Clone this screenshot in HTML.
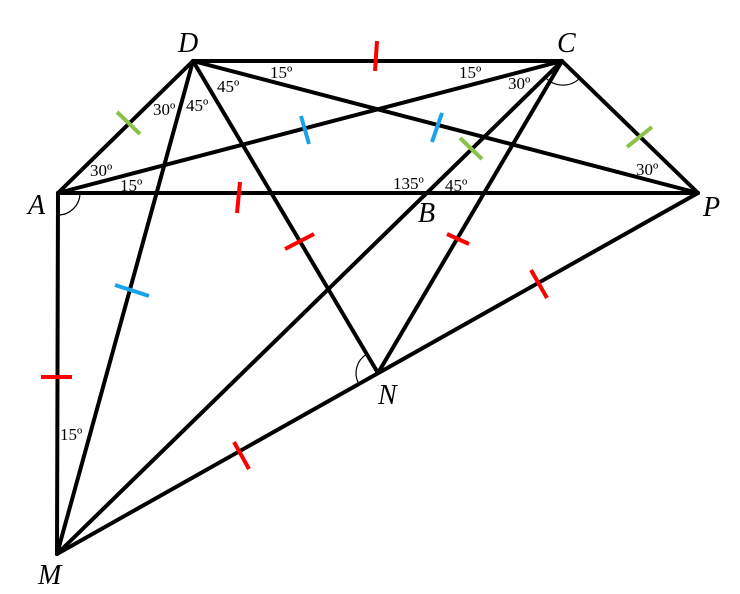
<!DOCTYPE html>
<html><head><meta charset="utf-8"><style>
html,body{margin:0;padding:0;background:#fff;width:740px;height:594px;overflow:hidden}
svg text.L{font-family:"Liberation Serif",serif;font-style:italic;font-size:28px;fill:#000}
svg text.a{font-family:"Liberation Serif",serif;font-size:17px;fill:#000}
</style></head><body>
<svg width="740" height="594" viewBox="0 0 740 594" xmlns="http://www.w3.org/2000/svg">
<g stroke="#000" stroke-width="4" stroke-linecap="round" fill="none">
<line x1="193" y1="61" x2="562" y2="61"/>
<line x1="58" y1="193" x2="193" y2="61"/>
<line x1="58" y1="193" x2="562" y2="61"/>
<line x1="58" y1="193" x2="698" y2="193"/>
<line x1="193" y1="61" x2="698" y2="193"/>
<line x1="193" y1="61" x2="378" y2="373"/>
<line x1="193" y1="61" x2="57" y2="554"/>
<line x1="562" y1="61" x2="698" y2="193"/>
<line x1="562" y1="61" x2="57" y2="554"/>
<line x1="562" y1="61" x2="378" y2="373"/>
<line x1="58" y1="193" x2="57" y2="554"/>
<line x1="57" y1="554" x2="698" y2="193"/>
</g>
<g stroke="#000" stroke-width="1.2" fill="none">
<path d="M80,193 A22,22 0 0 1 58,215"/>
<path d="M545,77 A24,24 0 0 0 580,78"/>
<path d="M367,354 A22,22 0 0 0 359,384"/>
</g>
<g stroke-width="4" fill="none">
<line x1="377" y1="41" x2="375" y2="71" stroke="#f00"/>
<line x1="117" y1="112" x2="140" y2="134" stroke="#8bc34a"/>
<line x1="301" y1="116" x2="309" y2="144" stroke="#1aa3e8"/>
<line x1="442" y1="113" x2="432" y2="142" stroke="#1aa3e8"/>
<line x1="460" y1="138" x2="482" y2="159" stroke="#8bc34a"/>
<line x1="652" y1="127" x2="627" y2="147" stroke="#8bc34a"/>
<line x1="240" y1="182" x2="237" y2="213" stroke="#f00"/>
<line x1="285" y1="249" x2="314" y2="234" stroke="#f00"/>
<line x1="447" y1="234" x2="469" y2="244" stroke="#f00"/>
<line x1="115" y1="285" x2="149" y2="296" stroke="#1aa3e8"/>
<line x1="41" y1="377" x2="72" y2="377" stroke="#f00"/>
<line x1="531" y1="270" x2="547" y2="298" stroke="#f00"/>
<line x1="234" y1="442" x2="249" y2="469" stroke="#f00"/>
</g>
<text class="L" x="178" y="52">D</text>
<text class="L" x="557" y="52">C</text>
<text class="L" x="28" y="214">A</text>
<text class="L" x="418" y="222">B</text>
<text class="L" x="703" y="216">P</text>
<text class="L" x="378" y="404">N</text>
<text class="L" x="38" y="584">M</text>
<text class="a" x="270" y="78">15º</text>
<text class="a" x="217" y="92">45º</text>
<text class="a" x="153" y="115">30º</text>
<text class="a" x="186" y="111">45º</text>
<text class="a" x="90" y="176">30º</text>
<text class="a" x="120" y="191">15º</text>
<text class="a" x="459" y="78">15º</text>
<text class="a" x="508" y="89">30º</text>
<text class="a" x="636" y="175">30º</text>
<text class="a" x="393" y="189">135º</text>
<text class="a" x="445" y="191">45º</text>
<text class="a" x="60" y="440">15º</text>
</svg>
</body></html>
